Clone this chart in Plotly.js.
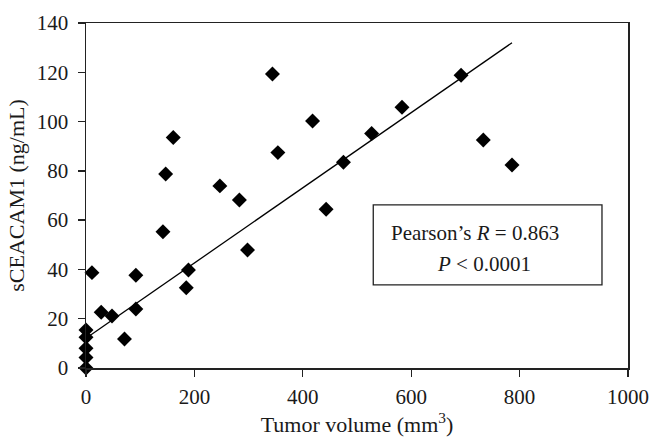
<!DOCTYPE html>
<html>
<head>
<meta charset="utf-8">
<script src="https://cdn.plot.ly/plotly-3.0.1.min.js"></script>
<style>html,body{margin:0;padding:0;background:#fff;}#chart{width:662px;height:448px;}</style>
</head>
<body>
<div id="chart"></div>
<script>
// Data
const tumorVolume = [0, 0, 0, 0, 0, 11, 28, 48, 71, 92, 92, 142, 147, 161, 185, 189, 247, 283, 298, 344, 354, 418, 443, 475, 527, 583, 692, 733, 786];
const sCEACAM1 = [0, 4.3, 8, 12.5, 15.4, 38.7, 22.6, 21.1, 11.8, 37.6, 23.9, 55.3, 78.7, 93.5, 32.6, 39.8, 73.9, 68.2, 47.9, 119.3, 87.4, 100.2, 64.4, 83.5, 95.2, 105.8, 118.8, 92.5, 82.4];
const fitX = [0, 786];
const fitY = [12.1, 132];
const xTicks = [0, 200, 400, 600, 800, 1000];
const yTicks = [0, 20, 40, 60, 80, 100, 120, 140];
const statLines = ["Pearson\u2019s <i>R</i> = 0.863", "<i>P</i> < 0.0001"];

const font = "Liberation Serif, Times New Roman, serif";
const ink = '#1a1a1a';

const traces = [
  {x: fitX, y: fitY, mode: 'lines', type: 'scatter', line: {color: '#000', width: 1.3}, hoverinfo: 'skip', cliponaxis: false},
  {x: tumorVolume, y: sCEACAM1, mode: 'markers', type: 'scatter',
   marker: {symbol: 'diamond', size: 11.5, color: '#000'}, cliponaxis: false}
];

const layout = {
  width: 662, height: 448,
  margin: {l: 85.5, r: 34, t: 23, b: 80},
  paper_bgcolor: '#fff', plot_bgcolor: '#fff',
  showlegend: false,
  font: {family: font, size: 21, color: ink},
  xaxis: {
    range: [0, 1000], tickvals: xTicks, ticktext: xTicks.map(String),
    showgrid: false, zeroline: false, showline: true, mirror: true,
    linecolor: '#222', linewidth: 1.5, ticks: 'outside', ticklen: 7, tickwidth: 1.3, tickcolor: '#222',
    ticklabelstandoff: 2,
    title: {text: 'Tumor volume (mm<sup>3</sup>)', font: {family: font, size: 22, color: ink}, standoff: 8},
    tickfont: {family: font, size: 21, color: ink}
  },
  yaxis: {
    range: [0, 140], tickvals: yTicks, ticktext: yTicks.map(String),
    showgrid: false, zeroline: false, showline: true, mirror: true,
    linecolor: '#222', linewidth: 1.5, ticks: 'outside', ticklen: 7, tickwidth: 1.3, tickcolor: '#222',
    ticklabelstandoff: 5,
    title: {text: 'sCEACAM1 (ng/mL)', font: {family: font, size: 22, color: ink}, standoff: 6},
    tickfont: {family: font, size: 21, color: ink}
  },
  shapes: [
    {type: 'rect', xref: 'x', yref: 'y', x0: 530, x1: 952, y0: 33.7, y1: 66.2,
     line: {color: '#222', width: 1.3}, fillcolor: 'rgba(0,0,0,0)'}
  ],
  annotations: [
    {xref: 'x', yref: 'y', x: 718, y: 54.6, text: statLines[0], showarrow: false,
     font: {family: font, size: 21, color: ink}, xanchor: 'center', yanchor: 'middle'},
    {xref: 'x', yref: 'y', x: 735, y: 42.2, text: statLines[1], showarrow: false,
     font: {family: font, size: 21, color: ink}, xanchor: 'center', yanchor: 'middle'}
  ]
};

Plotly.newPlot('chart', traces, layout, {displayModeBar: false, staticPlot: true});
</script>
</body>
</html>
